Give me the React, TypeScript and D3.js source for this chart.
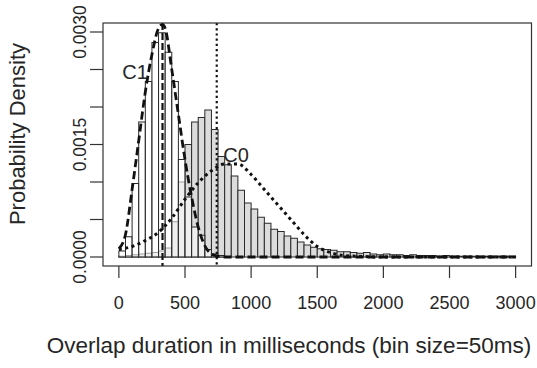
import { useEffect, useRef } from 'react';
import * as d3 from 'd3';

// Histogram densities, 50 ms bins starting at 0
const BIN = 50;
const c0Density = [
  0.00001, 0.00002, 0.00003, 0.00004, 0.00005, 0.00006, 0.00008, 0.00012, 0.00047, 0.001,
  0.0015, 0.0018, 0.00186, 0.00196, 0.0017, 0.00134, 0.00123, 0.00108, 0.00089, 0.00072,
  0.00064, 0.00053, 0.00045, 0.00037, 0.00034, 0.00028, 0.00025, 0.0002, 0.00016, 0.00013,
  0.00011, 0.0001, 0.00009, 0.00007, 0.00007, 0.00006, 0.00005, 0.00006, 0.00004, 0.00003,
  0.00004, 0.00003, 0.00003, 0.00002, 0.00003, 0.00002, 0.00002, 0.00002, 0.00001, 0.00002,
  0.00001, 0.00001, 0.00001, 0.00001, 0.00001, 0.00001, 0.00001, 0.00001, 0.00001, 0.00001,
];
const c1Density = [
  0.00008, 0.00027, 0.00098, 0.0018, 0.00234, 0.00286, 0.00299, 0.00273, 0.00234, 0.0013,
  0.0008, 0.0004, 0.00029, 0.0001, 0.00004, 0.00002,
];

// Fitted density curves
const c1CurveX = [0, 50, 100, 150, 200, 250, 300, 330, 350, 400, 450, 500, 550, 600, 650, 700, 750, 800, 1000, 1500, 2000, 2500, 3000];
const c1CurveY = [0.00011, 0.0003, 0.0009, 0.00155, 0.0022, 0.0027, 0.00305, 0.0031, 0.00305, 0.0025, 0.0019, 0.0013, 0.0008, 0.0004, 0.00015, 0.00004, 0.00001, 0, 0, 0, 0, 0, 0];
const c0CurveX = [0, 100, 200, 300, 400, 500, 600, 700, 800, 900, 1000, 1100, 1200, 1300, 1400, 1500, 1600, 1700, 1800, 2000, 2500, 3000];
const c0CurveY = [0.0001, 0.00014, 0.00022, 0.00033, 0.00052, 0.00077, 0.00099, 0.00115, 0.00124, 0.00124, 0.0011, 0.0009, 0.0007, 0.0005, 0.0003, 0.00014, 0.00006, 0.00002, 0.00001, 0, 0, 0];

// Vertical reference lines (ms)
const c1Mark = 330;
const c0Mark = 740;

const xTicks = [0, 500, 1000, 1500, 2000, 2500, 3000];
const yTicks = [0, 0.0005, 0.001, 0.0015, 0.002, 0.0025, 0.003];
const yLabels = ['0.0000', '', '', '0.0015', '', '', '0.0030'];

const W = 537;
const H = 368;
const FONT = '"Liberation Sans", Arial, Helvetica, sans-serif';
const INK = '#262626';

export default function App() {
  const svgRef = useRef<SVGSVGElement>(null);

  useEffect(() => {
    if (!svgRef.current) return;
    const svg = d3.select(svgRef.current);
    svg.selectAll('*').remove();

    // R style 4% padding around xlim (0,3000) and ylim (0,0.003)
    const x = d3.scaleLinear().domain([-120, 3120]).range([103, 531.5]);
    const y = d3.scaleLinear().domain([-0.00012, 0.00312]).range([266, 23]);

    const plot = svg.append('g');
    plot.append('clipPath').attr('id', 'clip')
      .append('rect')
      .attr('x', 103).attr('y', 23).attr('width', 428.5).attr('height', 243);
    const inner = plot.append('g').attr('clip-path', 'url(#clip)');

    // C0 histogram (grey)
    inner.selectAll('.c0')
      .data(c0Density)
      .enter()
      .append('rect')
      .attr('class', 'c0')
      .attr('x', (_d, i) => x(i * BIN))
      .attr('y', d => y(d))
      .attr('width', x(BIN) - x(0))
      .attr('height', d => y(0) - y(d))
      .attr('fill', '#dcdcdc')
      .attr('stroke', '#2a2a2a')
      .attr('stroke-width', 1);

    // C1 histogram (white, see-through)
    inner.selectAll('.c1')
      .data(c1Density)
      .enter()
      .append('rect')
      .attr('class', 'c1')
      .attr('x', (_d, i) => x(i * BIN))
      .attr('y', d => y(d))
      .attr('width', x(BIN) - x(0))
      .attr('height', d => y(0) - y(d))
      .attr('fill', '#ffffff')
      .attr('fill-opacity', 0.55)
      .attr('stroke', '#2a2a2a')
      .attr('stroke-width', 1);

    // density curves
    const line = d3.line<[number, number]>()
      .x(d => x(d[0]))
      .y(d => y(d[1]))
      .curve(d3.curveMonotoneX);

    inner.append('path')
      .attr('d', line(c1CurveX.map((v, i) => [v, c1CurveY[i]] as [number, number])))
      .attr('fill', 'none')
      .attr('stroke', '#111')
      .attr('stroke-width', 2.8)
      .attr('stroke-dasharray', '8,4');

    inner.append('path')
      .attr('d', line(c0CurveX.map((v, i) => [v, c0CurveY[i]] as [number, number])))
      .attr('fill', 'none')
      .attr('stroke', '#111')
      .attr('stroke-width', 3)
      .attr('stroke-dasharray', '3,3.5');

    // vertical markers
    inner.append('line')
      .attr('x1', x(c1Mark)).attr('x2', x(c1Mark))
      .attr('y1', 23).attr('y2', 266)
      .attr('stroke', '#111')
      .attr('stroke-width', 2.2)
      .attr('stroke-dasharray', '7,3');

    inner.append('line')
      .attr('x1', x(c0Mark)).attr('x2', x(c0Mark))
      .attr('y1', 23).attr('y2', 266)
      .attr('stroke', '#111')
      .attr('stroke-width', 2.2)
      .attr('stroke-dasharray', '2.2,3');

    // box
    plot.append('rect')
      .attr('x', 103).attr('y', 23).attr('width', 428.5).attr('height', 243)
      .attr('fill', 'none')
      .attr('stroke', '#333')
      .attr('stroke-width', 1.2);

    // x axis ticks and labels
    const xa = svg.append('g');
    xa.selectAll('line')
      .data(xTicks)
      .enter()
      .append('line')
      .attr('x1', d => x(d)).attr('x2', d => x(d))
      .attr('y1', 266).attr('y2', 278)
      .attr('stroke', '#333')
      .attr('stroke-width', 1.2);
    xa.selectAll('text')
      .data(xTicks)
      .enter()
      .append('text')
      .attr('x', d => x(d))
      .attr('y', 309)
      .attr('text-anchor', 'middle')
      .style('font-family', FONT)
      .style('font-size', '18px')
      .style('fill', INK)
      .text(d => String(d));

    // y axis ticks and labels
    const ya = svg.append('g');
    ya.selectAll('line')
      .data(yTicks)
      .enter()
      .append('line')
      .attr('x1', 90).attr('x2', 103)
      .attr('y1', d => y(d)).attr('y2', d => y(d))
      .attr('stroke', '#333')
      .attr('stroke-width', 1.2);
    ya.selectAll('text')
      .data(yTicks)
      .enter()
      .append('text')
      .attr('transform', d => `translate(86,${y(d)}) rotate(-90)`)
      .attr('text-anchor', 'middle')
      .style('font-family', FONT)
      .style('font-size', '17.5px')
      .style('fill', INK)
      .text((_d, i) => yLabels[i]);

    // axis titles
    svg.append('text')
      .attr('x', 289)
      .attr('y', 353)
      .attr('text-anchor', 'middle')
      .style('font-family', FONT)
      .style('font-size', '22.5px')
      .style('fill', INK)
      .text('Overlap duration in milliseconds (bin size=50ms)');

    svg.append('text')
      .attr('transform', `translate(25,${134}) rotate(-90)`)
      .attr('text-anchor', 'middle')
      .style('font-family', FONT)
      .style('font-size', '22px')
      .style('fill', INK)
      .text('Probability Density');

    // group labels
    svg.append('text')
      .attr('x', 135).attr('y', 79)
      .attr('text-anchor', 'middle')
      .style('font-family', FONT)
      .style('font-size', '20px')
      .style('fill', INK)
      .text('C1');

    svg.append('text')
      .attr('x', 236).attr('y', 162)
      .attr('text-anchor', 'middle')
      .style('font-family', FONT)
      .style('font-size', '20px')
      .style('fill', INK)
      .text('C0');
  }, []);

  return (
    <svg
      ref={svgRef}
      width={W}
      height={H}
      style={{ position: 'absolute', left: 0, top: 0, background: '#fff' }}
    />
  );
}
